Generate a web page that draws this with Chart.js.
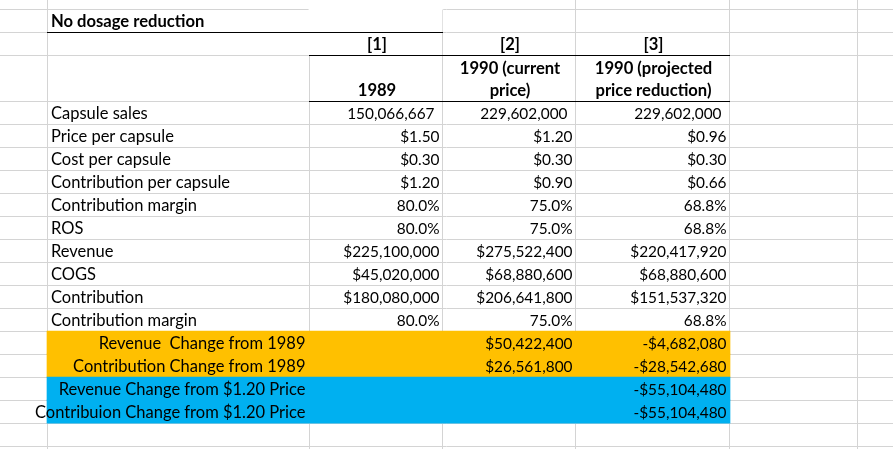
<!DOCTYPE html>
<html><head><meta charset="utf-8">
<script src="https://cdn.jsdelivr.net/npm/chart.js@4"></script>
<style>html,body{margin:0;padding:0;background:#fff;overflow:hidden}canvas{display:block}</style>
</head><body>
<canvas id="c" width="893" height="449"></canvas>
<script>
// ---------- data ----------
const sheetTitle = 'No dosage reduction';
const columnNumbers = ['[1]', '[2]', '[3]'];
const columnHeaders = [['1989'], ['1990 (current', 'price)'], ['1990 (projected', 'price reduction)']];
const rowLabels = [
  'Capsule sales', 'Price per capsule', 'Cost per capsule', 'Contribution per capsule',
  'Contribution margin', 'ROS', 'Revenue', 'COGS', 'Contribution', 'Contribution margin',
  'Revenue  Change from 1989', 'Contribution Change from 1989',
  'Revenue Change from $1.20 Price', 'Contribuion Change from $1.20 Price'
];
const rowFormats = ['int', 'usd2', 'usd2', 'usd2', 'pct', 'pct', 'usd0', 'usd0', 'usd0', 'pct', 'usd0', 'usd0', 'usd0', 'usd0'];
const values1989 = [150066667, 1.50, 0.30, 1.20, 0.80, 0.80, 225100000, 45020000, 180080000, 0.80, null, null, null, null];
const values1990Current = [229602000, 1.20, 0.30, 0.90, 0.75, 0.75, 275522400, 68880600, 206641800, 0.75, 50422400, 26561800, null, null];
const values1990Projected = [229602000, 0.96, 0.30, 0.66, 0.6875, 0.6875, 220417920, 68880600, 151537320, 0.6875, -4682080, -28542680, -55104480, -55104480];
const highlightGroup = [null, null, null, null, null, null, null, null, null, null, 'orange', 'orange', 'blue', 'blue'];

// ---------- layout / style ----------
const COL_EDGES = [47, 309, 442, 575, 729, 857];   // gridline pixel columns
const ROW_H = 23, FIRST_LINE = 9.1, CANVAS_W = 893, CANVAS_H = 449;
const FIRST_DATA_ROW = 4;        // sheet row index of first data row
const SKIP_LINES = [3];          // tall header row
const FILL = { orange: '#FFC000', blue: '#00B0F0', white: '#FFFFFF' };
const GRID = '#D4D4D4';
const FONT = 'Lato, Carlito, Calibri, sans-serif';
const FS_TEXT = 16.5, FS_NUM = 15.4, FS_BOLD = 16.6;
const INT_PAD = 5;               // trailing space of the integer number format

function commas(n) { return String(Math.round(Math.abs(n))).replace(/\B(?=(\d{3})+(?!\d))/g, ','); }
function fmt(v, f) {
  if (v === null || v === undefined) return '';
  const s = v < 0 ? '-' : '';
  if (f === 'int') return s + commas(v);
  if (f === 'usd2') return s + '$' + Math.abs(v).toFixed(2);
  if (f === 'pct') return (v * 100).toFixed(1) + '%';
  return s + '$' + commas(v);
}

// floating bars for the cell fills
const fillData = [], fillColors = [];
fillData.push({ y: -0.5, x: [COL_EDGES[1] - 0.5, COL_EDGES[2] + 0.5] }); fillColors.push(FILL.white);
fillData.push({ y: 0.5, x: [COL_EDGES[1] - 0.5, COL_EDGES[2] - 0.5] }); fillColors.push(FILL.white);
fillData.push({ y: 1.5, x: [COL_EDGES[1] - 0.5, COL_EDGES[1] + 0.5] }); fillColors.push(FILL.white);
highlightGroup.forEach((g, i) => {
  if (!g) return;
  fillData.push({ y: FIRST_DATA_ROW + i + 0.5, x: [COL_EDGES[0] - 0.5, COL_EDGES[4] + 0.5] });
  fillColors.push(FILL[g]);
});

const yMin = -FIRST_LINE / ROW_H;
const yMax = yMin + CANVAS_H / ROW_H;
const lineTicks = [];
for (let k = 0; k <= Math.floor(yMax); k++) if (!SKIP_LINES.includes(k)) lineTicks.push({ value: k });

const sheetPlugin = {
  id: 'sheet',
  afterDatasetsDraw(chart) {
    const ctx = chart.ctx, xs = chart.scales.x, ys = chart.scales.y;
    const px = v => xs.getPixelForValue(v);
    const py = v => ys.getPixelForValue(v);
    ctx.save();
    ctx.fillStyle = '#000';
    const hline = (k, c0, c1) => {
      const y = Math.floor(py(k));
      const x0 = Math.round(px(COL_EDGES[c0] - 0.5)), x1 = Math.round(px(COL_EDGES[c1] + 0.5));
      ctx.fillRect(x0, y, x1 - x0, 1);
    };
    hline(1, 0, 2);
    hline(2, 1, 4);
    hline(4, 1, 4);

    ctx.textBaseline = 'alphabetic';
    const base = r => Math.floor(py(r + 1)) - 5;
    const left = c => px(COL_EDGES[c]) + 3.5;
    const right = c => px(COL_EDGES[c]) - 3;
    const center = c => (px(COL_EDGES[c]) + px(COL_EDGES[c + 1])) / 2 + 1;

    ctx.font = 'bold ' + FS_BOLD + 'px ' + FONT;
    ctx.textAlign = 'left';
    ctx.fillText(sheetTitle, left(0), base(0));
    ctx.textAlign = 'center';
    columnNumbers.forEach((t, i) => ctx.fillText(t, center(1 + i), base(1)));
    columnHeaders.forEach((lines, i) => {
      const n = lines.length;
      lines.forEach((t, j) => ctx.fillText(t, center(1 + i), base(3) - (n - 1 - j) * 22.5));
    });

    const cols = [values1989, values1990Current, values1990Projected];
    rowLabels.forEach((lab, i) => {
      const r = FIRST_DATA_ROW + i;
      ctx.font = FS_TEXT + 'px ' + FONT;
      if (highlightGroup[i]) { ctx.textAlign = 'right'; ctx.fillText(lab, right(1) - 1, base(r)); }
      else { ctx.textAlign = 'left'; ctx.fillText(lab, left(0), base(r)); }
      ctx.font = FS_NUM + 'px ' + FONT;
      ctx.textAlign = 'right';
      const pad = rowFormats[i] === 'int' ? INT_PAD : 0;
      cols.forEach((arr, c) => ctx.fillText(fmt(arr[i], rowFormats[i]), right(2 + c) - pad, base(r)));
    });
    ctx.restore();
  }
};

new Chart(document.getElementById('c'), {
  type: 'bar',
  data: { datasets: [{ data: fillData, backgroundColor: fillColors, borderWidth: 0, barPercentage: 1, categoryPercentage: 1 }] },
  options: {
    indexAxis: 'y', responsive: false, animation: false, events: [],
    layout: { padding: 0 },
    plugins: { legend: { display: false }, tooltip: { enabled: false } },
    scales: {
      x: {
        type: 'linear', min: -0.5, max: CANVAS_W - 0.5, offset: false,
        afterBuildTicks: s => { s.ticks = COL_EDGES.map(v => ({ value: v })); },
        ticks: { display: false }, border: { display: false },
        grid: { color: GRID, lineWidth: 1, drawTicks: false, offset: false }
      },
      y: {
        type: 'linear', reverse: true, min: yMin, max: yMax, offset: false,
        afterBuildTicks: s => { s.ticks = lineTicks.slice(); },
        ticks: { display: false }, border: { display: false },
        grid: { color: GRID, lineWidth: 1, drawTicks: false, offset: false }
      }
    }
  },
  plugins: [sheetPlugin]
});
</script>
</body></html>
